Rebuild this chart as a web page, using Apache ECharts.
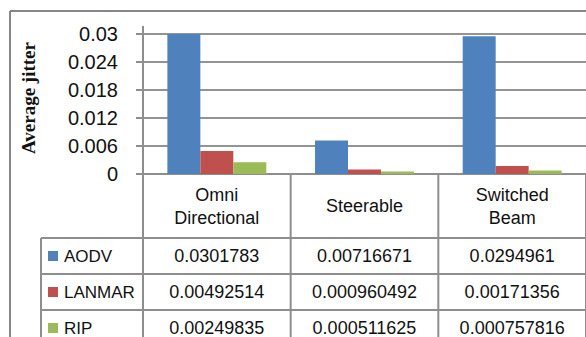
<!DOCTYPE html>
<html>
<head>
<meta charset="utf-8">
<script src="https://cdn.jsdelivr.net/npm/echarts@6/dist/echarts.min.js"></script>
<style>
  html, body { margin: 0; padding: 0; background: #fff; }
  #chart { width: 586px; height: 337px; }
</style>
</head>
<body>
<div id="chart"></div>
<script>
// Antenna types on the category axis
const categories = ['Omni\nDirectional', 'Steerable', 'Switched\nBeam'];
// Routing protocols
const seriesNames = ['AODV', 'LANMAR', 'RIP'];
// Average jitter per protocol
const aodv = [0.0301783, 0.00716671, 0.0294961];
const lanmar = [0.00492514, 0.000960492, 0.00171356];
const rip = [0.00249835, 0.000511625, 0.000757816];
// Value axis labels
const yTickLabels = ['0', '0.006', '0.012', '0.018', '0.024', '0.03'];
const yTitle = 'Average jitter';

const seriesValues = [aodv, lanmar, rip];
const colors = ['#4F81BD', '#C0504D', '#9BBB59'];

const LINE = '#8e8e8e';
const TEXT = '#111';
const SANS = '"Liberation Sans", Arial, sans-serif';

const chart = echarts.init(document.getElementById('chart'), null, { renderer: 'svg' });

chart.setOption({
  animation: false,
  backgroundColor: '#fff',
  grid: { left: 143, top: 34, width: 453, bottom: 163, containLabel: false },
  xAxis: {
    type: 'category',
    data: categories,
    axisLine: { show: true, lineStyle: { color: LINE, width: 2 } },
    axisTick: { show: false },
    axisLabel: {
      margin: 32,
      verticalAlign: 'middle',
      fontFamily: SANS,
      fontSize: 18,
      lineHeight: 23,
      color: TEXT
    }
  },
  yAxis: {
    type: 'value',
    min: 0,
    max: 0.03,
    interval: 0.006,
    axisLine: { show: false },
    axisTick: { show: true, inside: false, length: 7, lineStyle: { color: LINE, width: 2 } },
    axisLabel: {
      margin: 25,
      fontFamily: SANS,
      fontSize: 20,
      color: TEXT,
      formatter: (v, i) => yTickLabels[i]
    },
    splitLine: { show: true, lineStyle: { color: '#949494', width: 2 } }
  },
  series: seriesNames.map((name, i) => ({
    name,
    type: 'bar',
    data: seriesValues[i],
    barGap: '0%',
    barCategoryGap: '33%',
    clip: true,
    itemStyle: { color: colors[i] }
  }))
});

// Data table under the plot, aligned to the category bands
const c0 = chart.convertToPixel({ xAxisIndex: 0 }, 0);
const c1 = chart.convertToPixel({ xAxisIndex: 0 }, 1);
const band = c1 - c0;
const axisY = chart.convertToPixel({ yAxisIndex: 0 }, 0);
const plotLeft = c0 - band / 2;
const plotRight = plotLeft + band * categories.length;
const headerH = 64, rowH = 36, legendLeft = 41;
const bottomY = 337;

const g = [];
const line = (x1, y1, x2, y2, w, col) => g.push({
  type: 'line', silent: true,
  shape: { x1, y1, x2, y2 },
  style: { stroke: col || LINE, lineWidth: w || 2 }
});

// outer chart frame
line(10, 11, 586, 11, 2, '#868686');
line(10, 11, 10, bottomY, 2, '#868686');
// value axis line, continued down as the table edge
line(plotLeft, 26, plotLeft, bottomY);

const firstRowY = axisY + headerH;
// row separators
seriesNames.forEach((_, r) => {
  const y = firstRowY + r * rowH;
  line(legendLeft, y, plotRight, y);
});
// column separators
for (let k = 1; k <= categories.length; k++) {
  const x = plotLeft + k * band;
  line(x, axisY, x, bottomY);
}
// legend column edge
line(legendLeft, firstRowY, legendLeft, bottomY);

// legend keys, names and values
seriesNames.forEach((name, r) => {
  const cy = firstRowY + r * rowH + rowH / 2;
  g.push({
    type: 'rect', silent: true,
    shape: { x: 48, y: cy - 5, width: 10, height: 10 },
    style: { fill: colors[r] }
  });
  g.push({
    type: 'text', silent: true,
    x: 64, y: cy,
    style: { text: name, font: '17px ' + SANS, fill: TEXT, verticalAlign: 'middle', align: 'left' }
  });
  seriesValues[r].forEach((v, k) => {
    g.push({
      type: 'text', silent: true,
      x: plotLeft + (k + 0.5) * band, y: cy,
      style: { text: String(v), font: '18px ' + SANS, fill: TEXT, verticalAlign: 'middle', align: 'center' }
    });
  });
});

// value axis title
g.push({
  type: 'text', silent: true,
  x: 28, y: 98, rotation: Math.PI / 2,
  style: {
    text: yTitle,
    font: 'bold 19px "Liberation Serif", "Times New Roman", serif',
    fill: TEXT, align: 'center', verticalAlign: 'middle'
  }
});

chart.setOption({ graphic: { elements: g } });
</script>
</body>
</html>
